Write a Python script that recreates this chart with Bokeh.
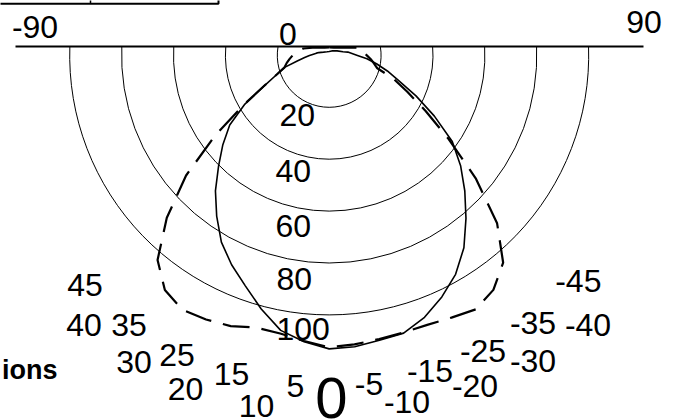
import numpy as np
from bokeh.plotting import figure
from bokeh.models import ColumnDataSource, Range1d
from bokeh.embed import file_html
from bokeh.resources import INLINE
from bokeh.core.properties import value

# ---------------- data ----------------
# polar angle in degrees from nadir (positive = left half), intensity values
angles = [180, 150, 120, 105, 100, 90, 85, 80, 75, 70, 65, 60, 55, 50, 45, 40, 35, 30,
          25, 20, 15, 10, 5, 0, -5, -10, -15, -20, -25, -30, -35, -40, -45, -50, -55,
          -60, -65, -70, -75, -80, -85, -90, -100, -105, -120, -150, -180]
solid_vals = [1.5, 1.6, 2.5, 4.2, 5.0, 7.6, 9.5, 12.5, 17.8, 21.5, 27.5, 37.5, 46.8, 53.5,
              60.3, 68.2, 75.6, 83.1, 89.0, 94.5, 101.2, 107.6, 110.8, 113.1, 112.7, 111.5,
              110.8, 107.4, 102.7, 97.4, 90.5, 82.0, 73.9, 66.1, 57.9, 46.8, 36.9, 28.5,
              23.2, 18.5, 14.6, 10.9, 7.3, 5.5, 3.5, 2.0, 1.5]
dashed_vals = [3.05, 3.5, 6.1, 10.3, 11.5, 14.1, 15.3, 16.6, 17.8, 21.5, 27.5, 38.0, 53.5,
               72.0, 88.5, 102.9, 110.4, 113.2, 112.3, 111.0, 108.6, 108.8, 110.5, 112.5,
               111.8, 111.0, 110.6, 110.5, 111.5, 113.0, 110.3, 104.3, 91.5, 73.7, 56.2,
               43.0, 33.2, 26.4, 19.2, 17.5, 16.0, 14.5, 12.7, 11.7, 6.1, 3.5, 3.05]
radial_grid = [20, 40, 60, 80, 100]
radial_labels = ["20", "40", "60", "80", "100"]
angle_labels = ["45", "40", "35", "30", "25", "20", "15", "10", "5", "0",
                "-5", "-10", "-15", "-20", "-25", "-30", "-35", "-40", "-45"]
top_labels = ["-90", "0", "90"]
side_title = "ions"

# ---------------- layout ----------------
CX, CY, S = 328.7, 54.9, 2.595      # pole position (px) and px per unit
W, H = 677, 420
OFF = 0


def to_data(X, Y):
    return (X - CX) / S, (CY - Y) / S


angle_label_pos = [(84.5, 284.2), (83.5, 324.7), (128.5, 324.7), (133.5, 361.7),
                   (176.5, 354.7), (185, 388.3), (231, 373.3), (256, 405), (295, 385),
                   (331, 397.5), (368.5, 383.3), (406.5, 401.7), (429.5, 370.8),
                   (474.5, 385.8), (482.5, 350), (532.5, 360.8), (532.5, 322.5),
                   (587.5, 324.2), (577.8, 280.8)]
radial_label_pos = [(279, 114.3), (275, 170.2), (275, 225), (276, 278.3), (276, 328.3)]
top_label_pos = [(34.5, 26), (287.5, 33), (643.5, 21)]

p = figure(width=W, height=H, output_backend="svg", toolbar_location=None,
           x_range=Range1d((OFF - CX) / S, (OFF + W - CX) / S),
           y_range=Range1d((CY - OFF - H) / S, (CY - OFF) / S),
           min_border=0, x_axis_location=None, y_axis_location=None)
p.grid.visible = False
p.outline_line_color = None
p.background_fill_color = "white"
p.border_fill_color = "white"

# cut-off legend table frame at the top-left
box = [to_data(X, Y) for X, Y in [(-5, 3.3), (218, 3.3), (218, -10)]]
p.line(x=[b[0] for b in box], y=[b[1] for b in box], line_color="black", line_width=2)
d0, d1 = to_data(90, 3.3), to_data(90, -10)
p.line(x=[d0[0], d1[0]], y=[d0[1], d1[1]], line_color="black", line_width=1.5)

# concentric grid circles (below the horizontal diameter line)
line_y = (CY - 46) / S
for r in radial_grid:
    a = np.arcsin(min(line_y / r, 1.0))
    p.arc(x=0, y=0, radius=r, start_angle=np.pi - a, end_angle=2 * np.pi + a,
          direction="anticlock", line_color="black", line_width=1)

# horizontal diameter line
x0, _ = to_data(15, 46)
x1, _ = to_data(643, 46)
p.line(x=[x0, x1], y=[line_y, line_y], line_color="black", line_width=2.2)

# polar curves
th = np.radians(angles)
rs = np.array(solid_vals)
rd = np.array(dashed_vals)
p.line(x=-rs * np.sin(th), y=-rs * np.cos(th), line_color="black", line_width=1.6)
p.line(x=-rd * np.sin(th), y=-rd * np.cos(th), line_color="black", line_width=2.2,
       line_dash="27 12")

FONT = value("Liberation Sans")


def put_text(labels, pos, size, align="center", style="normal"):
    xs, ys = zip(*[to_data(X, Y) for X, Y in pos])
    src = ColumnDataSource(dict(x=list(xs), y=list(ys), t=list(labels)))
    p.text(x="x", y="y", text="t", source=src, text_font=FONT, text_font_size=size,
           text_align=align, text_baseline="middle", text_color="black",
           text_font_style=style)


big = angle_labels.index("0")
put_text([l for i, l in enumerate(angle_labels) if i != big],
         [q for i, q in enumerate(angle_label_pos) if i != big], "32px")
put_text([angle_labels[big]], [angle_label_pos[big]], "58px")
put_text(radial_labels, radial_label_pos, "32px", align="left")
put_text(top_labels, top_label_pos, "32px")
put_text([side_title], [(57, 369.6)], "27px", align="right", style="bold")

open("out.html", "w").write(file_html(p, INLINE))
